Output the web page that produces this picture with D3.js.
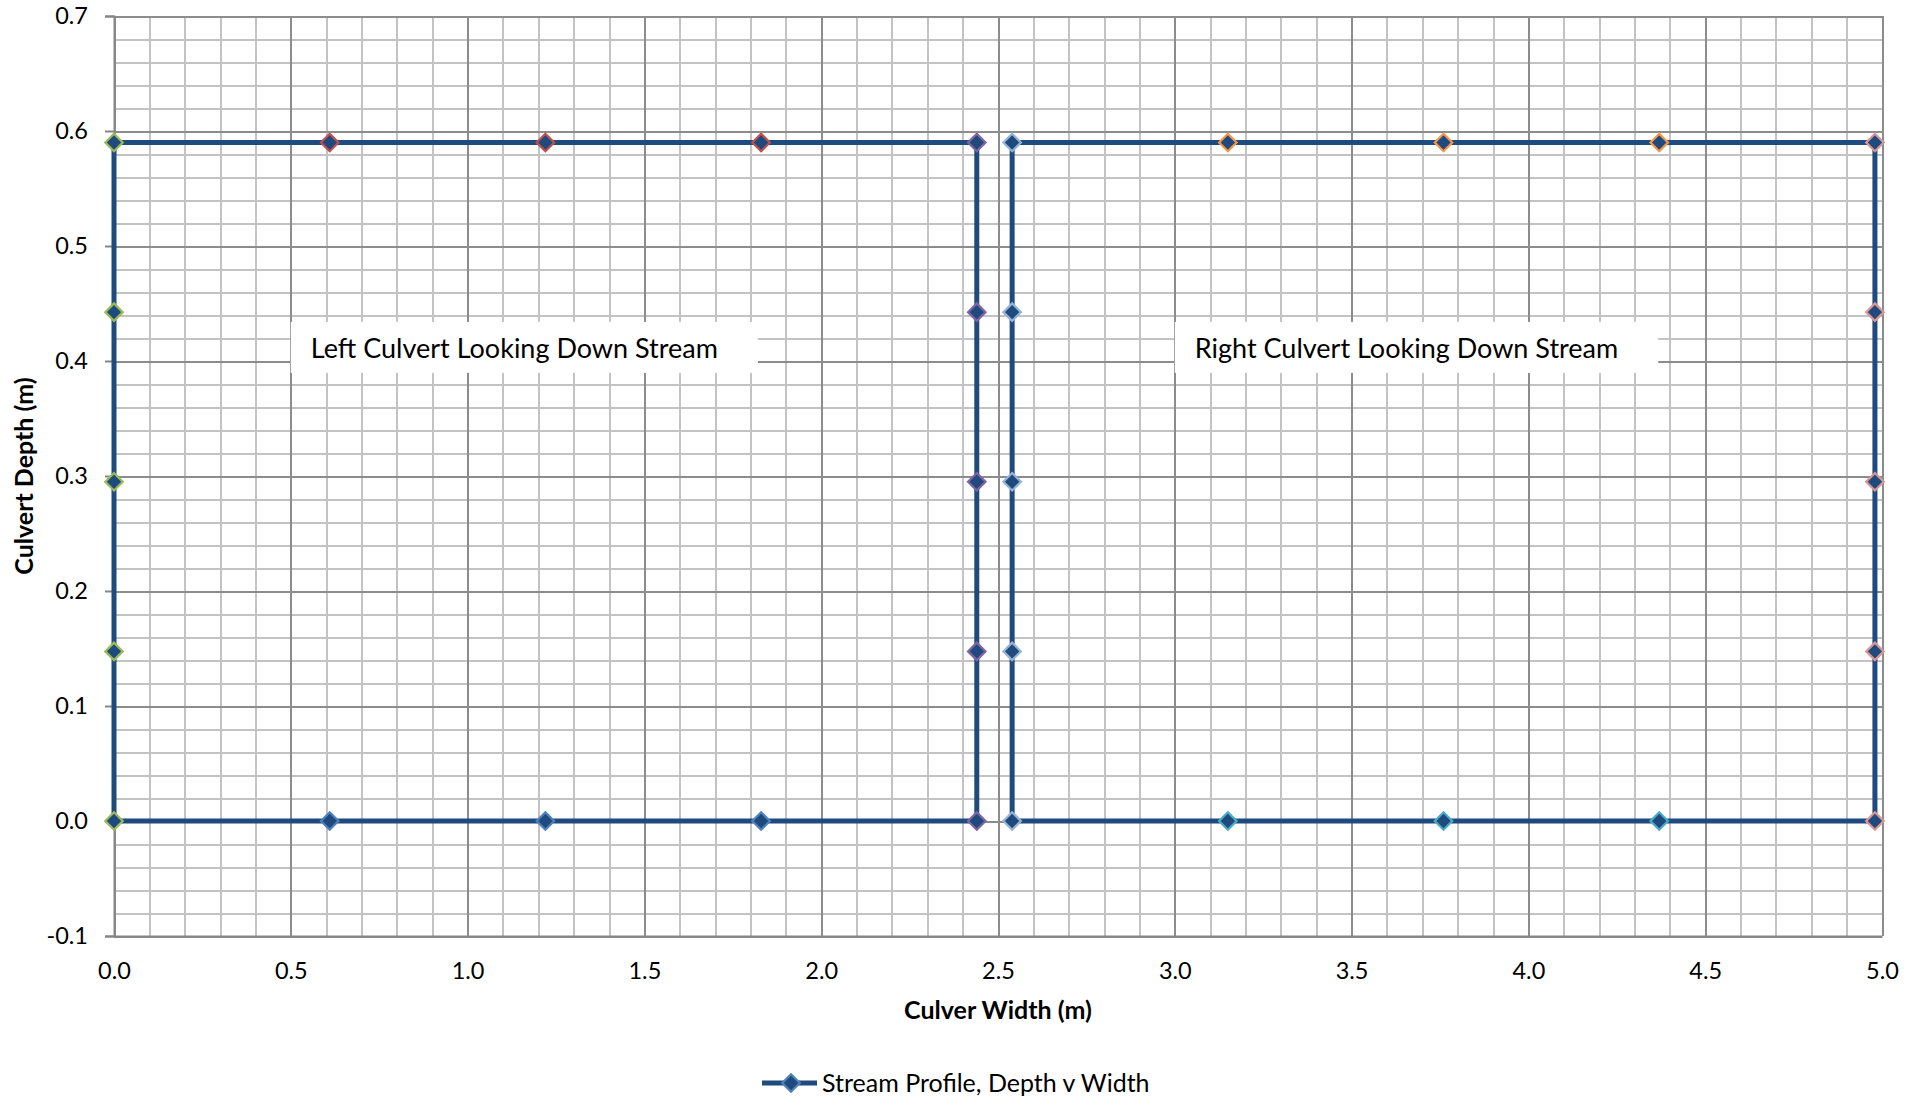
<html>
<head>
  <meta charset="UTF-8">
  <title>Culvert Stream Profile</title>
  <script src="https://d3js.org/d3.v7.min.js"></script>
  <style>
    body { margin: 0; background: white; }
    text { font-family: Lato, "Open Sans", sans-serif; fill: #000; }
    .grid line { shape-rendering: crispEdges; }
    .grid path { display: none; }
  </style>
</head>
<body>
<svg></svg>
<script>

    // Data

    const leftWidths = [0, 0.61, 1.22, 1.83, 2.44];
    const rightWidths = [2.54, 3.15, 3.76, 4.37, 4.98];
    const depthLevels = [0, 0.1475, 0.295, 0.4425, 0.59];

    const xTicks = [0, 0.5, 1, 1.5, 2, 2.5, 3, 3.5, 4, 4.5, 5];
    const yTicks = [-0.1, 0, 0.1, 0.2, 0.3, 0.4, 0.5, 0.6, 0.7];

    const sideKeys = ["leftWall", "leftTop", "leftBed", "leftInner", "rightInner", "rightTop", "rightBed", "rightWall"];
    const sideColors = ["#9bbb59", "#c0504d", "#4f81bd", "#8064a2", "#95b3d7", "#f79646", "#4bacc6", "#d99694"];

    const labels = ["Left Culvert Looking Down Stream", "Right Culvert Looking Down Stream"];
    const labelX = [0.5, 3.0];
    const labelY = [0.434, 0.434];

    // Setup

    const width = 1926;
    const height = 1099;
    const margins = { top: 16, right: 44, bottom: 163, left: 114 };

    const chartWidth = width - margins.left - margins.right;
    const chartHeight = height - margins.top - margins.bottom;

    const lineColor = "#1f4a7e";

    let svg = d3.select("svg")
                .attr("width", width)
                .attr("height", height);

    let chartArea = svg.append("g").attr("transform", `translate(${margins.left}, ${margins.top})`);

    const xScale = d3.scaleLinear().domain([0, 5]).range([0, chartWidth]);
    const yScale = d3.scaleLinear().domain([-0.1, 0.7]).range([chartHeight, 0]);
    const sideColor = d3.scaleOrdinal().domain(sideKeys).range(sideColors);

    // Grid lines (minor then major)

    chartArea.append("g")
        .attr("class", "grid")
        .call(d3.axisBottom(xScale).tickValues(d3.range(0, 51).map(i => i / 10)).tickFormat("").tickSize(chartHeight))
        .selectAll("line").style("stroke", "#c3c3c3").style("stroke-width", 2);

    chartArea.append("g")
        .attr("class", "grid")
        .call(d3.axisLeft(yScale).tickValues(d3.range(-5, 36).map(i => i / 50)).tickFormat("").tickSize(-chartWidth))
        .selectAll("line").style("stroke", "#c3c3c3").style("stroke-width", 2);

    chartArea.append("g")
        .attr("class", "grid")
        .call(d3.axisBottom(xScale).tickValues(xTicks).tickFormat("").tickSize(chartHeight))
        .selectAll("line").style("stroke", "#8c8c8c").style("stroke-width", 2);

    chartArea.append("g")
        .attr("class", "grid")
        .call(d3.axisLeft(yScale).tickValues(yTicks).tickFormat("").tickSize(-chartWidth))
        .selectAll("line").style("stroke", "#8c8c8c").style("stroke-width", 2);

    // Axes

    let leftAxis = d3.axisLeft(yScale).tickValues(yTicks).tickFormat(d => d.toFixed(1))
                     .tickSize(9).tickPadding(17);
    let yAxisG = chartArea.append("g").attr("class", "y axis").call(leftAxis);

    let bottomAxis = d3.axisBottom(xScale).tickValues(xTicks).tickFormat(d => d.toFixed(1))
                       .tickSize(0).tickPadding(26);
    let xAxisG = chartArea.append("g").attr("class", "x axis")
                   .attr("transform", `translate(0, ${chartHeight})`).call(bottomAxis);

    [yAxisG, xAxisG].forEach(g => {
        g.select(".domain").style("stroke", "#868686").style("stroke-width", 2);
        g.selectAll("line").style("stroke", "#868686").style("stroke-width", 2);
        g.selectAll("text").style("font-size", "23.5px").style("font-family", "Lato, sans-serif").style("fill", "#000");
    });

    svg.append("text")
        .attr("x", margins.left + chartWidth / 2)
        .attr("y", 1019)
        .attr("text-anchor", "middle")
        .style("font-size", "25px")
        .style("font-weight", "bold")
        .text("Culver Width (m)");

    svg.append("text")
        .attr("transform", `translate(33, ${margins.top + chartHeight / 2}) rotate(-90)`)
        .attr("text-anchor", "middle")
        .style("font-size", "25px")
        .style("font-weight", "bold")
        .text("Culvert Depth (m)");

    // Culvert outlines

    const topDepth = depthLevels[depthLevels.length - 1];

    function culvertLoop(widths) {
        const x0 = widths[0], x1 = widths[widths.length - 1];
        let pts = [];
        depthLevels.forEach(d => pts.push([x0, d]));
        widths.slice(1).forEach(w => pts.push([w, topDepth]));
        depthLevels.slice().reverse().slice(1).forEach(d => pts.push([x1, d]));
        widths.slice().reverse().slice(1).forEach(w => pts.push([w, 0]));
        return pts;
    }

    const line = d3.line().x(d => xScale(d[0])).y(d => yScale(d[1]));

    [leftWidths, rightWidths].forEach(widths => {
        chartArea.append("path")
            .datum(culvertLoop(widths))
            .attr("d", line)
            .attr("fill", "none")
            .attr("stroke", lineColor)
            .attr("stroke-width", 5)
            .attr("stroke-linejoin", "miter");
    });

    // Markers

    function markerList(widths, prefix) {
        const inner = widths.slice(1, -1);
        let m = [];
        inner.forEach(w => m.push({ x: w, y: topDepth, side: prefix === "left" ? "leftTop" : "rightTop" }));
        inner.forEach(w => m.push({ x: w, y: 0, side: prefix === "left" ? "leftBed" : "rightBed" }));
        depthLevels.forEach(d => m.push({ x: widths[0], y: d, side: prefix === "left" ? "leftWall" : "rightInner" }));
        depthLevels.forEach(d => m.push({ x: widths[widths.length - 1], y: d, side: prefix === "left" ? "leftInner" : "rightWall" }));
        return m;
    }

    const markers = markerList(leftWidths, "left").concat(markerList(rightWidths, "right"));
    const diamond = d3.symbol().type(d3.symbolDiamond2).size(195);

    chartArea.selectAll(".marker")
        .data(markers)
        .join("path")
        .attr("class", "marker")
        .attr("transform", d => `translate(${xScale(d.x)}, ${yScale(d.y)})`)
        .attr("d", diamond)
        .attr("fill", lineColor)
        .attr("stroke", d => sideColor(d.side))
        .attr("stroke-width", 2.2);

    // Text boxes

    labels.forEach((t, i) => {
        let g = chartArea.append("g")
                  .attr("transform", `translate(${xScale(labelX[i])}, ${yScale(labelY[i])})`);
        let rect = g.append("rect").attr("fill", "white");
        let txt = g.append("text")
                   .attr("x", 20)
                   .attr("y", 36)
                   .style("font-size", "27px")
                   .text(t);
        const w = txt.node().getComputedTextLength();
        rect.attr("width", w + 60).attr("height", 51);
    });

    // Legend

    let legend = svg.append("g").attr("transform", `translate(762, 1083)`);
    legend.append("line")
        .attr("x1", 0).attr("x2", 55)
        .attr("stroke", lineColor).attr("stroke-width", 5);
    legend.append("path")
        .attr("transform", "translate(29, 0)")
        .attr("d", diamond)
        .attr("fill", lineColor)
        .attr("stroke", "#4f81bd")
        .attr("stroke-width", 2.2);
    legend.append("text")
        .attr("x", 60)
        .attr("y", 9)
        .style("font-size", "25px")
        .text("Stream Profile, Depth v Width");

</script>
</body>
</html>
